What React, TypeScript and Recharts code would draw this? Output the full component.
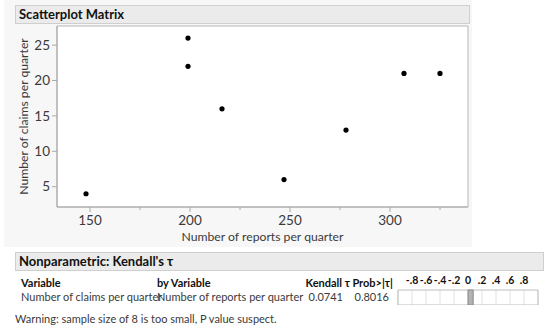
import {
  Bar,
  BarChart,
  CartesianGrid,
  Label,
  ReferenceArea,
  Scatter,
  ScatterChart,
  XAxis,
  YAxis,
} from 'recharts'

const reports = [148, 199, 199, 216, 247, 278, 307, 325]
const claims = [4, 26, 22, 16, 6, 13, 21, 21]
const xTicks = [150, 175, 200, 225, 250, 275, 300, 325]
const yTicks = [5, 10, 15, 20, 25]

const tauVariable = 'Number of claims per quarter'
const tauByVariable = 'Number of reports per quarter'
const tauValues = [0.0741]
const tauProb = [0.8016]
const tauTicks = [-0.8, -0.6, -0.4, -0.2, 0, 0.2, 0.4, 0.6, 0.8]

const font = 'Lato, "Open Sans", sans-serif'
const textColor = '#3a3a3a'

const points = reports.map((r, i) => ({ reports: r, claims: claims[i] }))
const tauData = tauValues.map((t, i) => ({ name: tauVariable, tau: t, prob: tauProb[i] }))

function XTick({ x, y, payload }: any) {
  const major = payload.value % 50 === 0
  return (
    <g>
      <line x1={x} x2={x} y1={y} y2={y + (major ? 5 : 3)} stroke='#aaa' />
      {major && (
        <text x={x} y={y + 18} textAnchor='middle' fontSize={13.5} fill={textColor} fontFamily={font}>
          {payload.value}
        </text>
      )}
    </g>
  )
}

function Dot({ cx, cy }: any) {
  return <circle cx={cx} cy={cy} r={2.6} fill='#000' />
}

const headerBar = (top: number, width: number, text: string) => (
  <div
    style={{
      position: 'absolute',
      left: 15,
      top,
      width,
      height: 17,
      background: '#ebebeb',
      border: '1px solid #cfcfcf',
      fontWeight: 700,
      fontSize: 13,
      lineHeight: '17px',
      paddingLeft: 3,
      boxSizing: 'content-box',
      color: '#111',
    }}
  >
    {text}
  </div>
)

const fmtTau = (v: number) => (v === 0 ? '0' : v.toFixed(1).replace('0.', '.'))

const cell = (left: number | null, right: number | null, top: number, bold: boolean, text: string) => (
  <div
    style={{
      position: 'absolute',
      left: left ?? undefined,
      right: right == null ? undefined : 550 - right,
      top,
      fontSize: 11,
      lineHeight: '14px',
      fontWeight: bold ? 700 : 400,
      color: bold ? '#111' : textColor,
      whiteSpace: 'nowrap',
    }}
  >
    {text}
  </div>
)

export default function App() {
  return (
    <div
      style={{
        position: 'absolute',
        left: 0,
        top: 0,
        width: 550,
        height: 332,
        background: '#fff',
        fontFamily: font,
        overflow: 'hidden',
      }}
    >
      <div style={{ position: 'absolute', left: 4, top: 0, width: 468, height: 247, background: '#f7f7f7' }} />
      {headerBar(5, 450, 'Scatterplot Matrix')}
      <div style={{ position: 'absolute', left: 0, top: 0 }}>
        <ScatterChart width={550} height={250} margin={{ top: 26, right: 82, bottom: 0, left: 0 }}>
          <XAxis
            type='number'
            dataKey='reports'
            domain={[133.5, 339]}
            ticks={xTicks}
            interval={0}
            height={43}
            tickSize={0}
            tickMargin={0}
            tick={<XTick />}
            axisLine={{ stroke: '#aaa' }}
            allowDataOverflow
          >
            <Label
              value='Number of reports per quarter'
              position='insideBottom'
              offset={9}
              style={{ fontSize: 12.2, fill: textColor, fontFamily: font }}
            />
          </XAxis>
          <YAxis
            type='number'
            dataKey='claims'
            domain={[2.13, 27.7]}
            ticks={yTicks}
            interval={0}
            width={57}
            tickSize={5}
            tickMargin={2}
            tick={{ fontSize: 13.5, fill: textColor, fontFamily: font }}
            tickLine={{ stroke: '#aaa' }}
            axisLine={{ stroke: '#aaa' }}
            allowDataOverflow
          >
            <Label
              value='Number of claims per quarter'
              angle={-90}
              position='insideLeft'
              offset={24}
              style={{ fontSize: 12.2, fill: textColor, fontFamily: font, textAnchor: 'middle' }}
            />
          </YAxis>
          <ReferenceArea x1={133.5} x2={339} y1={2.13} y2={27.7} fill='#fff' fillOpacity={1} stroke='#b5b5b5' />
          <Scatter data={points} shape={<Dot />} isAnimationActive={false} />
        </ScatterChart>
      </div>

      {headerBar(252, 524, "Nonparametric: Kendall's τ")}

      {cell(21, null, 276, true, 'Variable')}
      {cell(157, null, 276, true, 'by Variable')}
      {cell(null, 350, 276, true, 'Kendall τ')}
      {cell(null, 393, 276, true, 'Prob>|τ|')}

      {tauData.map((d) => (
        <div key={d.name}>
          {cell(21, null, 290, false, d.name)}
          {cell(157, null, 290, false, tauByVariable)}
          {cell(null, 343, 290, false, d.tau.toFixed(4))}
          {cell(null, 389, 290, false, d.prob.toFixed(4))}
        </div>
      ))}

      <div style={{ position: 'absolute', left: 390, top: 272 }}>
        <BarChart
          width={156}
          height={33}
          data={tauData}
          layout='vertical'
          margin={{ top: 0, right: 8, bottom: 0, left: 8 }}
          barCategoryGap={0}
        >
          <CartesianGrid horizontal={false} stroke='#e2e2e2' fill='#fff' />
          <XAxis
            type='number'
            orientation='top'
            domain={[-1, 1]}
            ticks={tauTicks}
            interval={0}
            height={18}
            tickSize={0}
            tickMargin={6}
            axisLine={false}
            tickFormatter={fmtTau}
            tick={{ fontSize: 10.5, fontWeight: 700, fill: '#111', fontFamily: font }}
          />
          <YAxis type='category' dataKey='name' hide />
          <ReferenceArea x1={-1} x2={1} fill='none' stroke='#bdbdbd' ifOverflow='visible' />
          <Bar dataKey='tau' fill='#b3b3b3' stroke='#8a8a8a' isAnimationActive={false} />
        </BarChart>
      </div>

      <div style={{ position: 'absolute', left: 15, top: 312, fontSize: 11, color: textColor, whiteSpace: 'nowrap' }}>
        Warning: sample size of 8 is too small, P value suspect.
      </div>
    </div>
  )
}
